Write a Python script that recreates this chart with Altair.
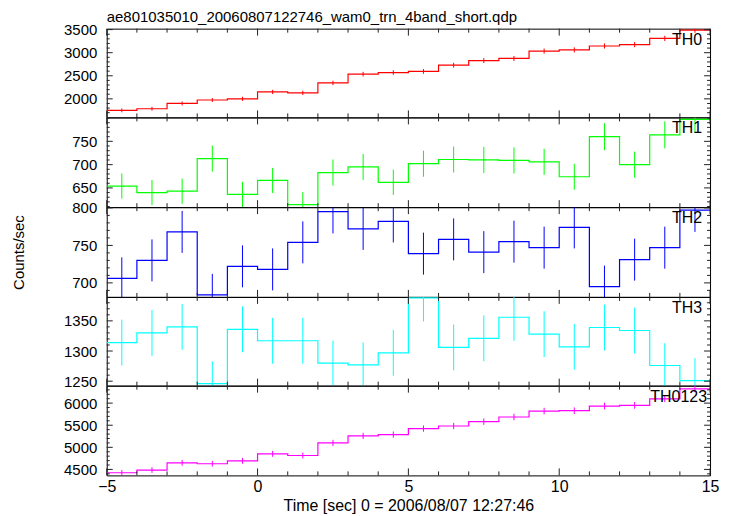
import altair as alt
import pandas as pd

FONT = "Liberation Sans"

title_text = "ae801035010_20060807122746_wam0_trn_4band_short.qdp"
x_title = "Time [sec] 0 = 2006/08/07 12:27:46"
y_title = "Counts/sec"

bin_width = 1.0
time_centers = [-4.5, -3.5, -2.5, -1.5, -0.5, 0.5, 1.5, 2.5, 3.5, 4.5,
                5.5, 6.5, 7.5, 8.5, 9.5, 10.5, 11.5, 12.5, 13.5, 14.5]

panel_names = ["TH0", "TH1", "TH2", "TH3", "TH0123"]
panel_colors = ["#ff0000", "#00ff00", "#0000ff", "#00ffff", "#ff00ff"]

th0 = [1750, 1785, 1900, 1975, 2000, 2150, 2130, 2345, 2535, 2570,
       2595, 2730, 2830, 2875, 3035, 3060, 3145, 3175, 3310, 3490]
th0_err = [42, 42, 43, 44, 45, 46, 46, 48, 50, 50,
           51, 52, 53, 54, 55, 55, 56, 56, 57, 59]
th1 = [654, 640, 643, 713, 636, 666, 614, 683, 695, 662,
       702, 711, 710, 709, 706, 674, 760, 700, 764, 797]
th1_err = [27, 27, 27, 28, 27, 27, 27, 28, 28, 27,
           28, 28, 28, 28, 28, 28, 29, 28, 29, 29]
th2 = [706, 730, 768, 684, 722, 718, 754, 795, 772, 782,
       739, 758, 741, 755, 747, 774, 695, 731, 747, 797]
th2_err = [28, 28, 28, 28, 28, 28, 28, 29, 28, 28,
           28, 28, 28, 28, 28, 28, 28, 28, 28, 29]
th3 = [1314, 1330, 1340, 1246, 1336, 1317, 1317, 1280, 1277, 1297,
       1388, 1306, 1321, 1356, 1328, 1307, 1339, 1334, 1276, 1251]
th3_err = [38, 38, 38, 37, 38, 38, 38, 37, 37, 38,
           39, 38, 38, 39, 38, 38, 38, 38, 37, 37]
th0123 = [4425, 4485, 4650, 4628, 4695, 4853, 4815, 5100, 5258, 5288,
          5423, 5483, 5580, 5686, 5820, 5828, 5933, 5948, 6098, 6323]
th0123_err = [64, 64, 65, 65, 66, 67, 67, 69, 70, 70,
              71, 71, 72, 73, 74, 74, 75, 75, 76, 77]

series_values = [th0, th1, th2, th3, th0123]
series_errors = [th0_err, th1_err, th2_err, th3_err, th0123_err]

y_domains = [[1598, 3521], [608.7, 801.4], [681.3, 801], [1242.6, 1389.7], [4365, 6395]]
y_major = [[2000, 2500, 3000, 3500], [650, 700, 750], [700, 750, 800],
           [1250, 1300, 1350], [4500, 5000, 5500, 6000]]
y_minor = [[1700, 1800, 1900, 2100, 2200, 2300, 2400, 2600, 2700, 2800, 2900, 3100, 3200, 3300, 3400],
           [610, 620, 630, 640, 660, 670, 680, 690, 710, 720, 730, 740, 760, 770, 780, 790, 800],
           [690, 710, 720, 730, 740, 760, 770, 780, 790],
           [1260, 1270, 1280, 1290, 1310, 1320, 1330, 1340, 1360, 1370, 1380],
           [4400, 4600, 4700, 4800, 4900, 5100, 5200, 5300, 5400, 5600, 5700, 5800, 5900, 6100, 6200, 6300]]
x_domain = [-5, 15]
x_major = [-5, 0, 5, 10, 15]
x_minor = [-4, -3, -2, -1, 1, 2, 3, 4, 6, 7, 8, 9, 11, 12, 13, 14]

W = 605
heights = [89, 90, 90, 89, 90]
label_right = [8, 8, 8, 8, 3]


def panel(i):
    H = heights[i]
    color = panel_colors[i]
    vals = series_values[i]
    errs = series_errors[i]
    last = i == len(panel_names) - 1

    df = pd.DataFrame({
        "t": time_centers,
        "v": vals,
        "lo": [v - e for v, e in zip(vals, errs)],
        "hi": [v + e for v, e in zip(vals, errs)],
    })
    edges = [c - bin_width / 2 for c in time_centers] + [time_centers[-1] + bin_width / 2]
    step_df = pd.DataFrame({"t": edges, "v": vals + [vals[-1]]})

    xscale = alt.Scale(domain=x_domain, nice=False, zero=False)
    yscale = alt.Scale(domain=y_domains[i], nice=False, zero=False)
    if last:
        xaxis = alt.Axis(values=x_major, ticks=False, domain=False, grid=False,
                         labelFontSize=16, labelPadding=3, labelFlush=False,
                         title=x_title, titleFontSize=16, titleFontWeight="normal",
                         titlePadding=3, format="d")
    else:
        xaxis = None
    yaxis = alt.Axis(values=y_major[i], ticks=False, domain=False, grid=False,
                     labelFontSize=15, labelPadding=10, labelFlush=False, format="d",
                     title=y_title if i == 2 else None, titleFontSize=15,
                     titleFontWeight="normal", titlePadding=45)

    def X(f):
        return alt.X(f, type="quantitative", scale=xscale, axis=xaxis)

    def Y(f):
        return alt.Y(f, type="quantitative", scale=yscale, axis=yaxis)

    step = alt.Chart(step_df).mark_line(interpolate="step-after", clip=True,
                                         color=color, strokeWidth=1.2).encode(x=X("t"), y=Y("v"))
    err = alt.Chart(df).mark_rule(clip=True, color=color, strokeWidth=1).encode(
        x=X("t"), y=Y("lo"), y2="hi")
    lbl = alt.Chart(pd.DataFrame({"name": [panel_names[i]]})).mark_text(
        align="right", baseline="alphabetic", fontSize=16, font=FONT, color="black"
    ).encode(x=alt.value(W - label_right[i]), y=alt.value(16), text="name:N")

    ymaj = pd.DataFrame({"v": y_major[i]})
    ymin = pd.DataFrame({"v": y_minor[i]})
    xmaj = pd.DataFrame({"t": x_major})
    xmin = pd.DataFrame({"t": x_minor})
    tc = "#222222"
    ticks = [
        alt.Chart(ymaj).mark_rule(color=tc, strokeWidth=1).encode(y=Y("v"), x=alt.value(0), x2=alt.value(6)),
        alt.Chart(ymaj).mark_rule(color=tc, strokeWidth=1).encode(y=Y("v"), x=alt.value(W), x2=alt.value(W - 6)),
        alt.Chart(ymin).mark_rule(color=tc, strokeWidth=1).encode(y=Y("v"), x=alt.value(0), x2=alt.value(3)),
        alt.Chart(ymin).mark_rule(color=tc, strokeWidth=1).encode(y=Y("v"), x=alt.value(W), x2=alt.value(W - 3)),
        alt.Chart(xmaj).mark_rule(color=tc, strokeWidth=1).encode(x=X("t"), y=alt.value(0), y2=alt.value(7)),
        alt.Chart(xmaj).mark_rule(color=tc, strokeWidth=1).encode(x=X("t"), y=alt.value(H), y2=alt.value(H - 7)),
        alt.Chart(xmin).mark_rule(color=tc, strokeWidth=1).encode(x=X("t"), y=alt.value(0), y2=alt.value(4)),
        alt.Chart(xmin).mark_rule(color=tc, strokeWidth=1).encode(x=X("t"), y=alt.value(H), y2=alt.value(H - 4)),
    ]
    ch = alt.layer(step, err, *ticks, lbl).properties(width=W, height=H)
    if i == 0:
        ch = ch.properties(title=alt.TitleParams(title_text, anchor="start", frame="group",
                                                 fontSize=15, fontWeight="normal", font=FONT,
                                                 color="black", offset=-2))
    return ch


chart = alt.vconcat(*[panel(i) for i in range(5)], spacing=0, bounds="flush").properties(
    padding={"left": 3, "top": 0, "right": 5, "bottom": 0}
).configure_view(stroke="black", strokeWidth=1).configure_axis(
    labelFont=FONT, titleFont=FONT, labelColor="black", titleColor="black"
).configure_title(font=FONT)

chart.save("out.html", embed_options={"renderer": "svg", "actions": False})
